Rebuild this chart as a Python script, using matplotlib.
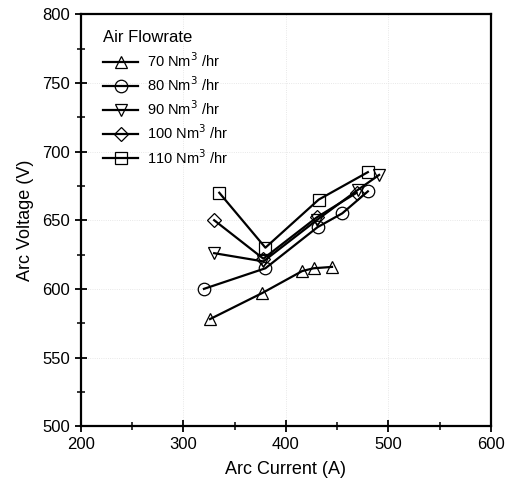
import matplotlib
matplotlib.use("Agg")
import matplotlib.pyplot as plt
from matplotlib.ticker import MultipleLocator

plt.rcParams['font.family'] = ['Liberation Sans', 'DejaVu Sans']

# Arc current (A) and arc voltage (V) for each air flow rate
current_70 = [326, 377, 416, 427, 445]
voltage_70 = [578, 597, 613, 615, 616]

current_80 = [320, 380, 431, 455, 480]
voltage_80 = [600, 615, 645, 655, 671]

current_90 = [330, 378, 430, 470, 491]
voltage_90 = [626, 620, 650, 672, 683]

current_100 = [330, 378, 430, 469]
voltage_100 = [650, 622, 652, 670]

current_110 = [335, 380, 432, 480]
voltage_110 = [670, 630, 665, 685]

labels = ["70 Nm$^3$ /hr", "80 Nm$^3$ /hr", "90 Nm$^3$ /hr",
          "100 Nm$^3$ /hr", "110 Nm$^3$ /hr"]
markers = ["^", "o", "v", "D", "s"]
series = [(current_70, voltage_70), (current_80, voltage_80),
          (current_90, voltage_90), (current_100, voltage_100),
          (current_110, voltage_110)]

fig = plt.figure(figsize=(5.06, 4.91), dpi=100)
ax = fig.add_axes([0.160, 0.132, 0.810, 0.839])

for (x, y), m, lab in zip(series, markers, labels):
    ms = 7 if m == "D" else 9
    ax.plot(x, y, color="black", lw=1.6, marker=m, markersize=ms,
            markerfacecolor="none", markeredgecolor="black",
            markeredgewidth=0.9, label=lab)

ax.set_xlim(200, 600)
ax.set_ylim(500, 800)
ax.xaxis.set_major_locator(MultipleLocator(100))
ax.xaxis.set_minor_locator(MultipleLocator(50))
ax.yaxis.set_major_locator(MultipleLocator(50))
ax.yaxis.set_minor_locator(MultipleLocator(25))

ax.tick_params(which="major", direction="inout", length=8, width=1.3,
               labelsize=12, pad=4)
ax.tick_params(which="minor", direction="inout", length=6, width=1.1)
for s in ax.spines.values():
    s.set_linewidth(1.6)

ax.grid(True, which="major", linestyle=":", color="0.88", linewidth=0.6)

ax.set_xlabel("Arc Current (A)", fontsize=13, labelpad=6)
ax.set_ylabel("Arc Voltage (V)", fontsize=13, labelpad=6)

leg = ax.legend(loc="upper left", bbox_to_anchor=(0.04, 0.975),
                title="Air Flowrate", frameon=False,
                fontsize=10.5, title_fontsize=12, handlelength=2.4,
                borderaxespad=0.0, labelspacing=0.38, handletextpad=0.6)
leg._legend_box.align = "left"

fig.savefig("out.png", dpi=100)
